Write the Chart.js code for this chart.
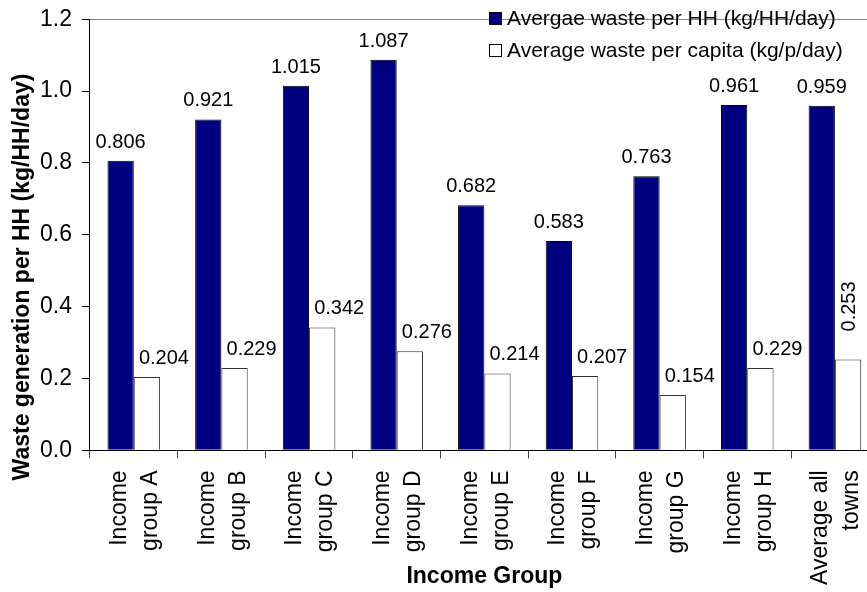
<!DOCTYPE html>
<html>
<head>
<meta charset="utf-8">
<script src="https://cdn.jsdelivr.net/npm/chart.js@4/dist/chart.umd.min.js"></script>
<style>
html, body { margin: 0; padding: 0; background: #fff; overflow: hidden; width: 867px; height: 592px; }
#wrap { width: 909px; height: 592px; }
</style>
</head>
<body>
<div id="wrap"><canvas id="c" width="909" height="592"></canvas></div>
<script>
const categories = [
  ['Income', 'group A'], ['Income', 'group B'], ['Income', 'group C'], ['Income', 'group D'],
  ['Income', 'group E'], ['Income', 'group F'], ['Income', 'group G'], ['Income', 'group H'],
  ['Average all', 'towns']
];
const wastePerHH = [0.806, 0.921, 1.015, 1.087, 0.682, 0.583, 0.763, 0.961, 0.959];
const wastePerCapita = [0.204, 0.229, 0.342, 0.276, 0.214, 0.207, 0.154, 0.229, 0.253];
const seriesNames = ['Avergae waste per HH (kg/HH/day)', 'Average waste per capita (kg/p/day)'];
const yTicks = [0, 0.2, 0.4, 0.6, 0.8, 1.0, 1.2];
const xTitle = 'Income Group';
const yTitle = 'Waste generation per HH (kg/HH/day)';

const FONT = "'Liberation Sans', Arial, sans-serif";

const extras = {
  id: 'extras',
  afterDatasetsDraw(chart) {
    const ctx = chart.ctx;
    const ca = chart.chartArea;
    ctx.save();
    // top border of plot area
    ctx.strokeStyle = '#888';
    ctx.lineWidth = 1;
    ctx.beginPath();
    ctx.moveTo(ca.left, Math.round(ca.top) + 0.5);
    ctx.lineTo(ca.right, Math.round(ca.top) + 0.5);
    ctx.stroke();

    // data labels
    ctx.fillStyle = '#000';
    ctx.font = '20px ' + FONT;
    chart.data.datasets.forEach((ds, di) => {
      const meta = chart.getDatasetMeta(di);
      meta.data.forEach((bar, i) => {
        const txt = ds.data[i].toFixed(3);
        if (di === 1 && i === ds.data.length - 1) {
          ctx.save();
          ctx.translate(bar.x + 7, bar.y - 53);
          ctx.rotate(-Math.PI / 2);
          ctx.textAlign = 'center';
          ctx.textBaseline = 'alphabetic';
          ctx.fillText(txt, 0, 0);
          ctx.restore();
        } else {
          ctx.textAlign = 'center';
          ctx.textBaseline = 'alphabetic';
          const dx = di === 1 ? 17 : 0;
          ctx.fillText(txt, bar.x + dx, bar.y - 13);
        }
      });
    });

    // legend
    ctx.font = '21px ' + FONT;
    ctx.textAlign = 'left';
    ctx.textBaseline = 'alphabetic';
    chart.data.datasets.forEach((ds, di) => {
      const y = 12 + di * 32;
      ctx.fillStyle = ds.backgroundColor;
      ctx.fillRect(489, y, 13, 13);
      ctx.strokeStyle = '#000';
      ctx.lineWidth = 1;
      ctx.strokeRect(489.5, y + 0.5, 12, 12);
      ctx.fillStyle = '#000';
      ctx.fillText(ds.label, 507, y + 13);
    });

    // axis titles
    ctx.font = 'bold 23px ' + FONT;
    ctx.fillStyle = '#000';
    ctx.textAlign = 'center';
    ctx.textBaseline = 'alphabetic';
    ctx.fillText(xTitle, (ca.left + ca.right) / 2, 583);
    ctx.save();
    ctx.translate(29, 277);
    ctx.rotate(-Math.PI / 2);
    ctx.fillText(yTitle, 0, 0);
    ctx.restore();
    ctx.restore();
  }
};

new Chart(document.getElementById('c'), {
  type: 'bar',
  data: {
    labels: categories,
    datasets: [
      { label: seriesNames[0], data: wastePerHH, backgroundColor: '#000080', borderColor: '#000', borderWidth: 1 },
      { label: seriesNames[1], data: wastePerCapita, backgroundColor: '#ffffff', borderColor: '#333', borderWidth: 1 }
    ]
  },
  options: {
    responsive: false,
    animation: false,
    events: [],
    layout: { padding: { left: 30, right: 0, top: 5, bottom: -5 } },
    datasets: { bar: { categoryPercentage: 0.6, barPercentage: 1.0 } },
    plugins: { legend: { display: false }, tooltip: { enabled: false } },
    scales: {
      x: {
        grid: { display: true, offset: true, drawOnChartArea: false, drawTicks: true, tickLength: 8, color: '#444' },
        border: { display: true, color: '#000', width: 1 },
        ticks: {
          autoSkip: false, minRotation: 90, maxRotation: 90, padding: 12, labelOffset: -14, color: '#000',
          font: { family: FONT, size: 23, lineHeight: 1.35 }
        }
      },
      y: {
        min: 0, max: 1.2,
        afterBuildTicks(scale) { scale.ticks = yTicks.map(v => ({ value: v })); },
        grid: { display: true, drawOnChartArea: false, drawTicks: true, tickLength: 8, color: '#000' },
        border: { display: true, color: '#000', width: 1 },
        ticks: {
          padding: 10, color: '#000',
          font: { family: FONT, size: 23, lineHeight: 0.8 },
          callback: v => Number(v).toFixed(1)
        }
      }
    }
  },
  plugins: [extras]
});
</script>
</body>
</html>
